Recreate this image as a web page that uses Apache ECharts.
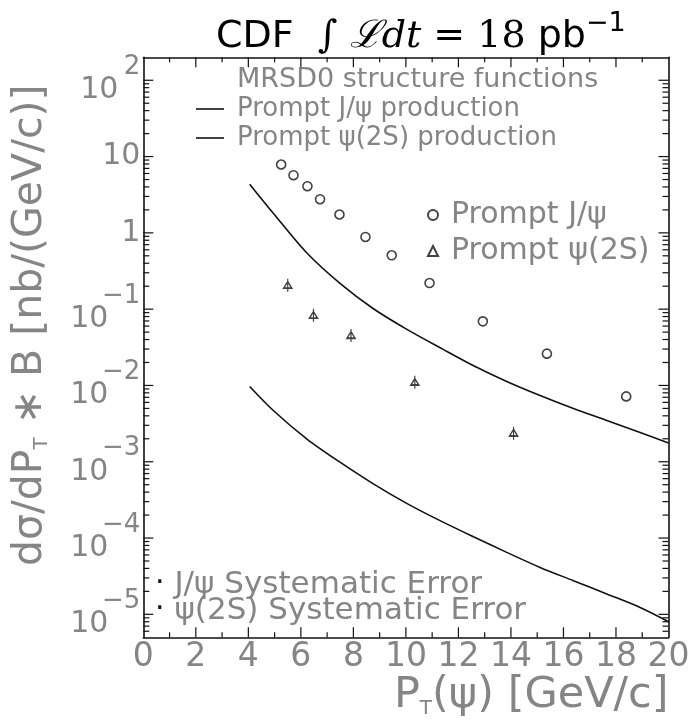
<!DOCTYPE html>
<html><head><meta charset="utf-8">
<script src="https://cdn.jsdelivr.net/npm/echarts@6/dist/echarts.min.js"></script>
<style>html,body{margin:0;padding:0;background:#fff}#c{width:690px;height:721px}</style>
</head><body><div id="c"></div>
<script>
// ---- data ----
const jpsiPt  = [5.25, 5.72, 6.25, 6.73, 7.47, 8.46, 9.46, 10.9, 12.93, 15.37, 18.39];
const jpsiXs  = [7.87, 5.70, 4.09, 2.76, 1.74, 0.883, 0.508, 0.220, 0.0692, 0.0261, 0.00718];
const psi2sPt = [5.5, 6.48, 7.91, 10.34, 14.1];
const psi2sXs = [0.205, 0.083, 0.0453, 0.0110, 0.00237];
const thJpsiPt = [4.05, 4.95, 6.24, 7.49, 8.75, 10.04, 11.42, 12.56, 13.84, 15.11, 16.38, 17.65, 18.92, 20.0];
const thJpsiXs = [4.35, 1.81, 0.540, 0.218, 0.102, 0.0543, 0.0297, 0.0183, 0.0113, 0.00739, 0.00499, 0.00347, 0.00241, 0.00176];
const thPsi2sPt = [4.05, 4.95, 6.22, 7.49, 8.76, 10.03, 11.30, 12.57, 13.84, 15.11, 16.38, 17.65, 18.92, 20.0];
const thPsi2sXs = [0.0097, 0.0047, 0.0020, 0.000986, 0.000513, 0.000285, 0.000169, 0.000104, 6.49e-5, 4.12e-5, 2.76e-5, 1.85e-5, 1.23e-5, 8.0e-6];
const seriesNames = ['Prompt J/ψ production', 'Prompt ψ(2S) production', 'Prompt J/ψ', 'Prompt ψ(2S)'];
const legendHeader = 'MRSD0 structure functions';
const sysLabels = ['J/ψ Systematic Error', 'ψ(2S) Systematic Error'];
// ---- axes ----
const xRange = [0, 20];
const yRange = [5e-6, 200];
const yDecades = [-6, -5, -4, -3, -2, -1, 0, 1, 2];
const minorMults = [2, 3, 4, 5, 6, 7, 8, 9];
const xMajorTicks = [2, 4, 6, 8, 10, 12, 14, 16, 18];
const xMinorTicks = [1, 3, 5, 7, 9, 11, 13, 15, 17, 19];

const zip = (a, b) => a.map((v, i) => [v, b[i]]);
const GREY = '#858585';
const FONT = 'DejaVu Sans';

// tick marks on all four frame sides: [x, y, kind] kind 0 = y major, 1 = y minor, 2 = x major, 3 = x minor
const tickData = [];
yDecades.forEach(d => {
  const major = Math.pow(10, d);
  if (major > yRange[0] && major < yRange[1]) tickData.push([xRange[0], major, 0]);
  minorMults.forEach(m => {
    const v = m * major;
    if (v > yRange[0] && v < yRange[1]) tickData.push([xRange[0], v, 1]);
  });
});
xMajorTicks.forEach(v => tickData.push([v, yRange[0], 2]));
xMinorTicks.forEach(v => tickData.push([v, yRange[0], 3]));
const tickLen = [10, 6, 10, 5];

function yLabel(v) {
  const e = Math.round(Math.log10(v));
  if (e === 0) return '{c|1}';
  if (e === 1) return '{c|10}';
  if (e > 0) return '{sp|' + e + '}\n{bp|10}';
  return '{sn|\u2212' + (-e) + '}\n{bn|10}';
}
const axLine = (show) => ({ show: show, onZero: false, lineStyle: { color: '#111', width: 1.6 } });
const lab = (extra) => Object.assign({ fontFamily: FONT, color: GREY }, extra);

const chart = echarts.init(document.getElementById('c'));
chart.setOption({
  animation: false,
  backgroundColor: '#fff',
  title: {
    text: '{a|CDF  }{m|∫ ℒdt }{r|= 18 }{a|pb}{sup|\u22121}',
    left: 211, top: 5,
    textStyle: {
      fontWeight: 'normal',
      rich: {
        a: { fontFamily: FONT, fontWeight: 'normal', fontSize: 38, color: '#000', lineHeight: 46, verticalAlign: 'bottom' },
        m: { fontFamily: 'DejaVu Serif', fontWeight: 'normal', fontStyle: 'italic', fontSize: 38, color: '#000', lineHeight: 46, verticalAlign: 'bottom' },
        r: { fontFamily: 'DejaVu Serif', fontWeight: 'normal', fontSize: 38, color: '#000', lineHeight: 46, verticalAlign: 'bottom' },
        sup: { fontFamily: FONT, fontWeight: 'normal', fontSize: 27, color: '#000', lineHeight: 27, verticalAlign: 'top' }
      }
    }
  },
  grid: { left: 143.3, right: 21.5, top: 57.3, bottom: 83.7, outerBoundsMode: 'none', containLabel: false },
  xAxis: [{
    type: 'value', min: xRange[0], max: xRange[1], interval: 2, position: 'bottom',
    name: 'P{sub|T}(ψ) [GeV/c]', nameLocation: 'end', nameGap: 0,
    nameTextStyle: lab({ align: 'right', verticalAlign: 'top', padding: [37, 0, 0, 0], fontSize: 43,
      rich: { sub: lab({ fontSize: 20, padding: [24, 0, 0, 0] }) } }),
    axisLine: axLine(true), axisTick: { show: false }, splitLine: { show: false },
    axisLabel: lab({ margin: 4, fontSize: 33 })
  }, {
    type: 'value', min: xRange[0], max: xRange[1], interval: 2, position: 'top',
    axisLine: axLine(true), axisTick: { show: false }, splitLine: { show: false }, axisLabel: { show: false }
  }],
  yAxis: [{
    type: 'log', logBase: 10, min: yRange[0], max: yRange[1], position: 'left',
    name: 'dσ/dP{sub|T} ∗ B [nb/(GeV/c)]', nameLocation: 'middle', nameRotate: 90, nameGap: 92,
    nameTextStyle: lab({ fontSize: 41, padding: [0, 0, 0, 44],
      rich: { sub: lab({ fontSize: 20, padding: [22, 0, 0, 0] }) } }),
    axisLine: axLine(true), axisTick: { show: false }, splitLine: { show: false },
    axisLabel: {
      margin: 3, formatter: yLabel,
      rich: {
        c: lab({ fontSize: 30, lineHeight: 30 }),
        bp: lab({ fontSize: 30, lineHeight: 26, padding: [0, 22, 0, 0] }),
        bn: lab({ fontSize: 30, lineHeight: 26, padding: [0, 32, 0, 0] }),
        sp: lab({ fontSize: 26, lineHeight: 20 }),
        sn: lab({ fontSize: 26, lineHeight: 20 })
      }
    }
  }, {
    type: 'log', logBase: 10, min: yRange[0], max: yRange[1], position: 'right',
    axisLine: axLine(true), axisTick: { show: false }, splitLine: { show: false }, axisLabel: { show: false }
  }],
  legend: [{
    data: [{ name: seriesNames[0], icon: 'rect' }, { name: seriesNames[1], icon: 'rect' }],
    orient: 'vertical', left: 191, top: 91, itemGap: 3,
    itemWidth: 28, itemHeight: 1.6,
    textStyle: lab({ fontSize: 26, lineHeight: 20, padding: [0, 0, 0, 8] })
  }, {
    data: [{ name: seriesNames[2], icon: 'circle' }, { name: seriesNames[3], icon: 'triangle' }],
    orient: 'vertical', left: 422, top: 194, itemGap: 4,
    itemWidth: 10, itemHeight: 10,
    textStyle: lab({ fontSize: 30, lineHeight: 32, padding: [0, 0, 0, 8] })
  }],
  graphic: [
    { type: 'text', left: 237, top: 66, style: { text: legendHeader, font: '27px "DejaVu Sans"', fill: GREY } },
    { type: 'text', left: 155, top: 569, style: { text: '{d|·} ' + sysLabels[0], font: '31px "DejaVu Sans"', fill: GREY,
        rich: { d: { fill: '#111', font: '30px "DejaVu Sans"' } } } },
    { type: 'text', left: 155, top: 595, style: { text: '{d|·} ' + sysLabels[1], font: '31px "DejaVu Sans"', fill: GREY,
        rich: { d: { fill: '#111', font: '30px "DejaVu Sans"' } } } }
  ],
  series: [{
    name: 'frame ticks', type: 'custom', data: tickData, clip: false, silent: true, z: 3,
    renderItem: function (params, api) {
      const kind = api.value(2);
      const len = tickLen[kind];
      const style = { stroke: '#111', lineWidth: 1.2 };
      if (kind < 2) {
        const a = api.coord([xRange[0], api.value(1)]);
        const b = api.coord([xRange[1], api.value(1)]);
        return { type: 'group', children: [
          { type: 'line', shape: { x1: a[0], y1: a[1], x2: a[0] + len, y2: a[1] }, style: style },
          { type: 'line', shape: { x1: b[0], y1: b[1], x2: b[0] - len, y2: b[1] }, style: style }
        ] };
      }
      const a = api.coord([api.value(0), yRange[0]]);
      const b = api.coord([api.value(0), yRange[1]]);
      return { type: 'group', children: [
        { type: 'line', shape: { x1: a[0], y1: a[1], x2: a[0], y2: a[1] - len }, style: style },
        { type: 'line', shape: { x1: b[0], y1: b[1], x2: b[0], y2: b[1] + len }, style: style }
      ] };
    }
  }, {
    name: seriesNames[0], type: 'line', data: zip(thJpsiPt, thJpsiXs), smooth: 0.3,
    symbol: 'none', lineStyle: { color: '#111', width: 1.6 }, itemStyle: { color: '#111' }
  }, {
    name: seriesNames[1], type: 'line', data: zip(thPsi2sPt, thPsi2sXs), smooth: 0.3,
    symbol: 'none', lineStyle: { color: '#111', width: 1.6 }, itemStyle: { color: '#111' }
  }, {
    name: seriesNames[2], type: 'scatter', data: zip(jpsiPt, jpsiXs), symbol: 'circle', symbolSize: 9,
    itemStyle: { color: '#fff', borderColor: '#111', borderWidth: 1.6 }, z: 5
  }, {
    name: seriesNames[3], type: 'scatter', data: zip(psi2sPt, psi2sXs),
    symbol: 'path://M5,0 L5,14 M1,10 L9,10 L5,3 Z', symbolSize: [8, 13],
    itemStyle: { color: '#fff', borderColor: '#111', borderWidth: 1.5 }, z: 5
  }]
});
</script></body></html>
